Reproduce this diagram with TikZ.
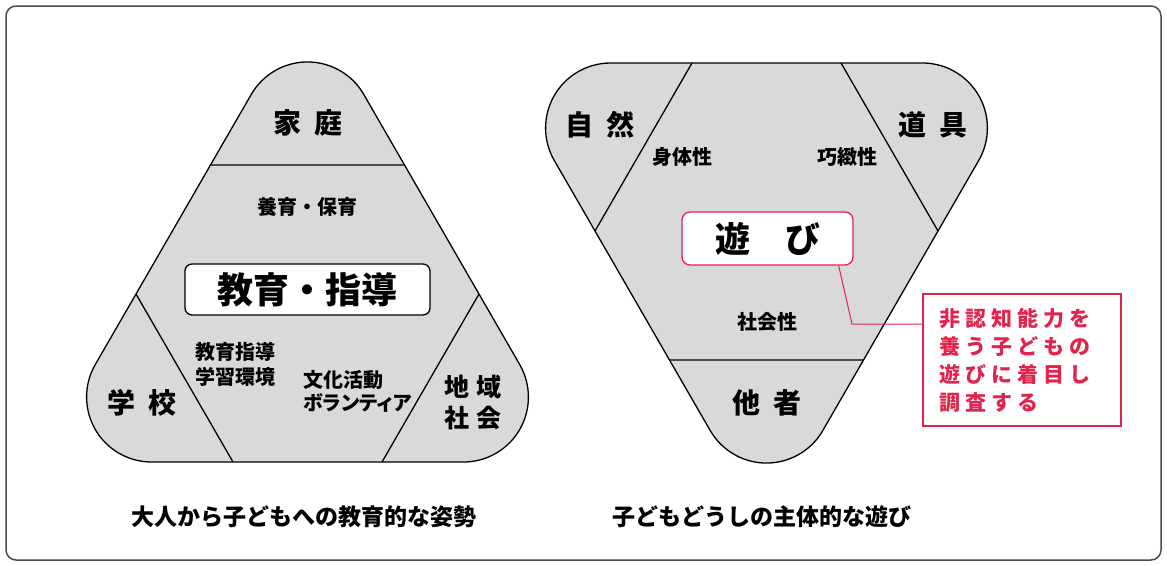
\documentclass[tikz,border=0pt]{standalone}
\usepackage{fontspec}
\setmainfont{Noto Sans CJK JP}
\newfontfamily\notefont{Noto Sans CJK JP}[LetterSpace=24]
\usepackage{xcolor}
\usepackage{tikz}
\usetikzlibrary{calc}
\definecolor{trigray}{RGB}{217,217,217}
\definecolor{notered}{RGB}{226,36,76}
\newcommand{\trishape}{(-155.9,155) -- ++(311.8,0) arc[start angle=90,end angle=-30,radius=65]
  -- ++(-120:311.8) arc[start angle=-30,end angle=-150,radius=65]
  -- ++(120:311.8) arc[start angle=-150,end angle=-270,radius=65] -- cycle}

\begin{document}
\begin{tikzpicture}[x=1pt,y=-1pt,
  tri/.style={fill=trigray,draw=black,line width=1.3pt},
  cut/.style={draw=black,line width=1.3pt},
  big/.style={inner sep=0pt,font=\bfseries\fontsize{28}{31}\selectfont},
  small/.style={inner sep=0pt,font=\bfseries\fontsize{20}{25}\selectfont},
  keybox/.style={draw=black,fill=white,line width=1.3pt,rounded corners=7pt,font=\bfseries\fontsize{36}{40}\selectfont},
  playbox/.style={draw=notered,fill=white,line width=1.3pt,rounded corners=8pt,font=\bfseries\fontsize{35}{40}\selectfont},
  note/.style={draw=notered,fill=white,line width=1.3pt,text=notered,font=\notefont\bfseries\fontsize{21}{28}\selectfont},
  redline/.style={draw=notered,line width=1pt},
  caption/.style={inner sep=0pt,font=\bfseries\fontsize{23}{26}\selectfont}]
\useasboundingbox (0,0) rectangle (1167,565);
\draw[black!70,line width=1.5pt,rounded corners=10pt] (6,6) rectangle (1161,560);

% left triangle
\begin{scope}[shift={(307.5,307)}]
\filldraw[tri] \trishape;
\draw[cut] (-97,-142) -- (97,-142) (-74.5,155) -- (-171.5,-13) (74.5,155) -- (171.5,-13);
\end{scope}

\node[big] (katei) at (308,123) {家\hspace{.45em}庭};
\node[small] (youiku) at (307,207) {養育・保育};
\node[keybox,minimum width=245pt,minimum height=51pt] (kyouiku) at (307.5,289.5) {教育・指導};
\node[big] (gakkou) at (142,403) {学\hspace{.45em}校};
\node[big,align=center,font=\bfseries\fontsize{25}{31}\selectfont] (chiiki) at (473,402) {地\hspace{.3em}域\\社\hspace{.3em}会};
\node[small,align=left,anchor=west] (gakushu) at (195,364.5) {教育指導\\学習環境};
\node[small,align=left,anchor=west,font=\bfseries\fontsize{20}{23}\selectfont] (bunka) at (303,391.5)
  {文化活動\\{\addfontfeature{CharacterWidth=AlternateProportional}ボランティア}};

% right triangle
\begin{scope}[shift={(766.5,218)},yscale=-1]
\filldraw[tri] \trishape;
\draw[cut] (-97,-142) -- (97,-142) (-74.5,155) -- (-171.5,-13) (74.5,155) -- (171.5,-13);
\end{scope}

\node[big] (shizen) at (600,125) {自\hspace{.45em}然};
\node[big] (dougu) at (933,125) {道\hspace{.45em}具};
\node[big] (tasha) at (767,403) {他\hspace{.45em}者};
\node[small] (shintai) at (682,157) {身体性};
\node[small] (koushi) at (847,157) {巧緻性};
\node[small] (shakai) at (767,322) {社会性};
\node[playbox,minimum width=171pt,minimum height=53pt] (asobi) at (767.5,238.5) {遊　び};

\node[note,minimum width=198pt,minimum height=132pt,text width=165pt,align=left] (note) at (1022,360)
  {非認知能力を\\養う子どもの\\遊びに着目し\\調査する};
\coordinate (bend) at (852,324);
\draw[redline] ([xshift=-15pt]asobi.south east) -- (bend) -- (bend -| note.west);

\node[caption] (cap1) at (304,517) {大人から子どもへの教育的な姿勢};
\node[caption] (cap2) at (762,517) {子どもどうしの主体的な遊び};
\end{tikzpicture}
\end{document}
